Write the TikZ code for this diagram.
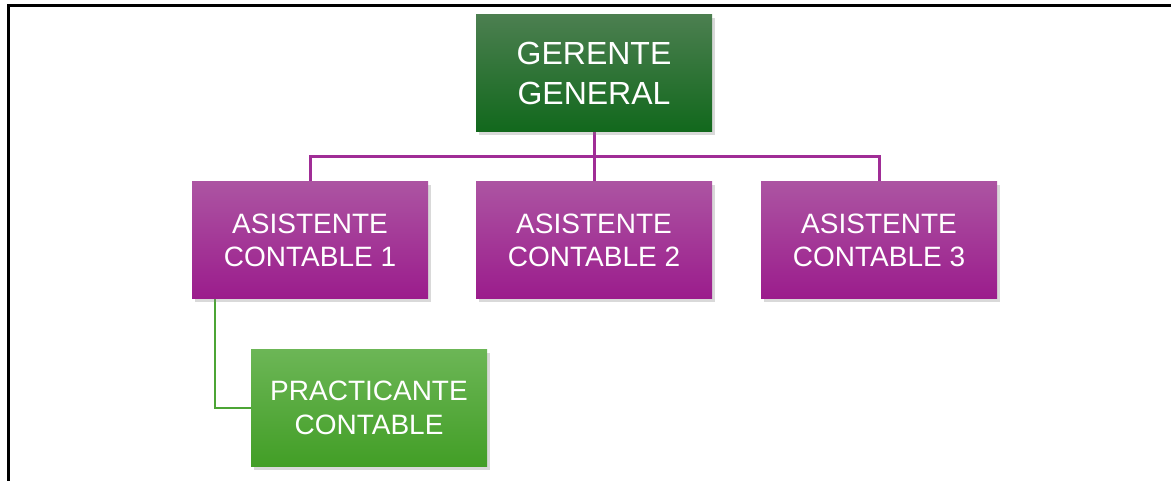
\documentclass[tikz,border=0pt]{standalone}
\usepackage{fontspec}
\setmainfont{Liberation Sans}
\usetikzlibrary{shadows,backgrounds}

\definecolor{ggtop}{RGB}{76,127,80}
\definecolor{ggbot}{RGB}{17,104,28}
\definecolor{astop}{RGB}{172,84,162}
\definecolor{asbot}{RGB}{155,28,140}
\definecolor{pctop}{RGB}{108,182,86}
\definecolor{pcbot}{RGB}{66,158,38}
\definecolor{busline}{RGB}{160,45,150}
\definecolor{pcline}{RGB}{76,165,53}

\tikzset{
    cargo/.style={minimum width=236pt, minimum height=117pt, inner sep=0pt,
        align=center, text=white,
        drop shadow={shadow xshift=3pt, shadow yshift=-3pt, opacity=0.3}},
    gerente/.style={cargo, top color=ggtop, bottom color=ggbot,
        font=\fontsize{32}{40}\selectfont},
    asistente/.style={cargo, top color=astop, bottom color=asbot,
        font=\fontsize{28}{33.5}\selectfont},
    practicante/.style={cargo, top color=pctop, bottom color=pcbot,
        font=\fontsize{28}{34}\selectfont},
    linea/.style={busline, line width=3pt},
    lineaverde/.style={pcline, line width=2.5pt}
}

\begin{document}
\begin{tikzpicture}[x=1pt, y=-1pt]
    \useasboundingbox (0,0) rectangle (1171,481);
    % marco
    \draw[line width=3pt] (8,481) -- (8,6) -- (1171,6);

    % nodos
    \node[gerente] (gg) at (594,73.5) {GERENTE\\GENERAL};
    \node[asistente] (as1) at (310,240.5) {ASISTENTE\\CONTABLE 1};
    \node[asistente] (as2) at (594,240.5) {ASISTENTE\\CONTABLE 2};
    \node[asistente] (as3) at (879,240.5) {ASISTENTE\\CONTABLE 3};
    \node[practicante] (pc) at (369,408) {PRACTICANTE\\CONTABLE};

    % conectores
    \coordinate (bus) at (594,157);
    \coordinate (pcx) at (215,300);
    \begin{scope}[on background layer]
    \draw[linea] (gg.south) -- (bus);
    \draw[linea] (as1.north) |- (bus) -| (as3.north);
    \draw[linea] (bus) -- (as2.north);
    \draw[lineaverde] (pcx |- as1.south) |- (pc.west);
    \end{scope}
\end{tikzpicture}
\end{document}
